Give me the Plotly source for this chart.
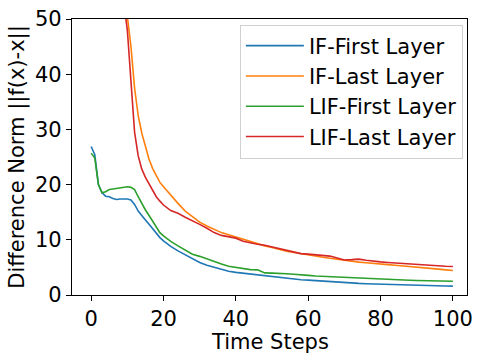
import plotly.graph_objects as go

time_steps = [0,1,2,3,4,5,6,7,8,9,10,11,12,13,14,15,16,17,18,19,20,22,24,26,28,30,32,34,36,38,40,
              42,44,46,48,50,52,54,56,58,60,62,64,66,68,70,72,74,76,78,80,82,84,86,88,90,92,94,96,98,100]

if_first = [26.9,25.4,20.0,18.5,17.9,17.8,17.5,17.3,17.4,17.4,17.4,17.2,16.4,15.2,14.3,13.6,12.8,12.0,11.1,10.4,9.8,
            8.8,8.0,7.3,6.5,5.9,5.4,5.0,4.6,4.3,4.1,3.95,3.8,3.7,3.45,3.3,3.15,3.0,2.9,2.75,2.7,2.6,2.5,2.4,2.3,
            2.25,2.2,2.1,2.05,2.0,1.95,1.9,1.85,1.8,1.77,1.75,1.7,1.67,1.65,1.62,1.6]

if_last = [190,160,135,115,98,85,75,67,61,56,51,45,37.5,32.5,29.3,26.9,24.6,22.9,21.5,20.4,19.6,
           18.0,16.6,15.2,14.2,13.2,12.5,11.9,11.3,10.9,10.5,10.1,9.6,9.2,8.9,8.6,8.25,7.95,7.7,7.45,7.25,
           7.05,6.85,6.65,6.45,6.25,6.1,5.95,5.85,5.7,5.6,5.5,5.4,5.3,5.18,5.05,4.92,4.8,4.68,4.55,4.43]

lif_first = [25.7,24.8,20.0,18.5,18.7,19.1,19.2,19.3,19.4,19.45,19.6,19.5,19.1,17.8,16.5,15.4,14.4,13.4,12.2,11.3,10.7,
             9.7,8.9,8.1,7.4,7.0,6.5,6.1,5.6,5.2,5.0,4.75,4.6,4.55,4.0,3.97,3.95,3.85,3.75,3.6,3.55,3.45,3.38,
             3.3,3.27,3.25,3.12,3.05,2.95,2.88,2.82,2.78,2.73,2.7,2.67,2.63,2.6,2.57,2.54,2.5,2.48]

lif_last = [170,140,118,100,86,75,67,61,56,53,48,39,29.5,25.2,22.8,21.3,20.1,18.9,17.8,17.0,16.3,
            15.3,14.8,14.1,13.5,12.8,12.1,11.3,10.8,10.5,10.3,9.75,9.45,9.2,9.0,8.7,8.3,8.0,7.7,7.5,7.4,
            7.25,7.15,7.05,6.7,6.35,6.4,6.5,6.3,6.1,6.0,5.9,5.8,5.7,5.6,5.5,5.4,5.3,5.25,5.2,5.15]

series = [
    ("IF-First Layer", if_first, "#1f77b4"),
    ("IF-Last Layer", if_last, "#ff7f0e"),
    ("LIF-First Layer", lif_first, "#2ca02c"),
    ("LIF-Last Layer", lif_last, "#d62728"),
]

font = "DejaVu Sans"
fs = 21
fig = go.Figure()
for name, vals, color in series:
    fig.add_trace(go.Scatter(x=time_steps, y=vals, mode="lines", name=name,
                             line=dict(color=color, width=1.6)))

axis_common = dict(showline=True, linecolor="black", linewidth=1.2, mirror=True,
                   ticks="outside", ticklen=5, tickcolor="black", showgrid=False,
                   zeroline=False, tickfont=dict(family=font, size=fs, color="black"))

fig.update_layout(
    width=480, height=354,
    margin=dict(l=72, r=7, t=13, b=59),
    paper_bgcolor="white", plot_bgcolor="white",
    font=dict(family=font, size=fs, color="black"),
    xaxis=dict(range=[-5.3, 103.9], tickvals=[0, 20, 40, 60, 80, 100], **axis_common),
    yaxis=dict(range=[0, 50], tickvals=[0, 10, 20, 30, 40, 50],
               title=dict(text="Difference Norm ||f(x)-x||", font=dict(family=font, size=fs), standoff=4),
               **axis_common),
    legend=dict(x=0.425, y=0.98, xanchor="left", yanchor="top",
                itemwidth=58,
                bgcolor="rgba(255,255,255,0.8)", bordercolor="#d0d0d0", borderwidth=1,
                font=dict(family=font, size=fs)),
    showlegend=True,
    annotations=[dict(text="Time Steps", xref="paper", yref="paper", x=0.5, y=-0.17,
                      xanchor="center", yanchor="middle", showarrow=False,
                      font=dict(family=font, size=fs, color="black"))],
)

fig.write_html("out.html")
